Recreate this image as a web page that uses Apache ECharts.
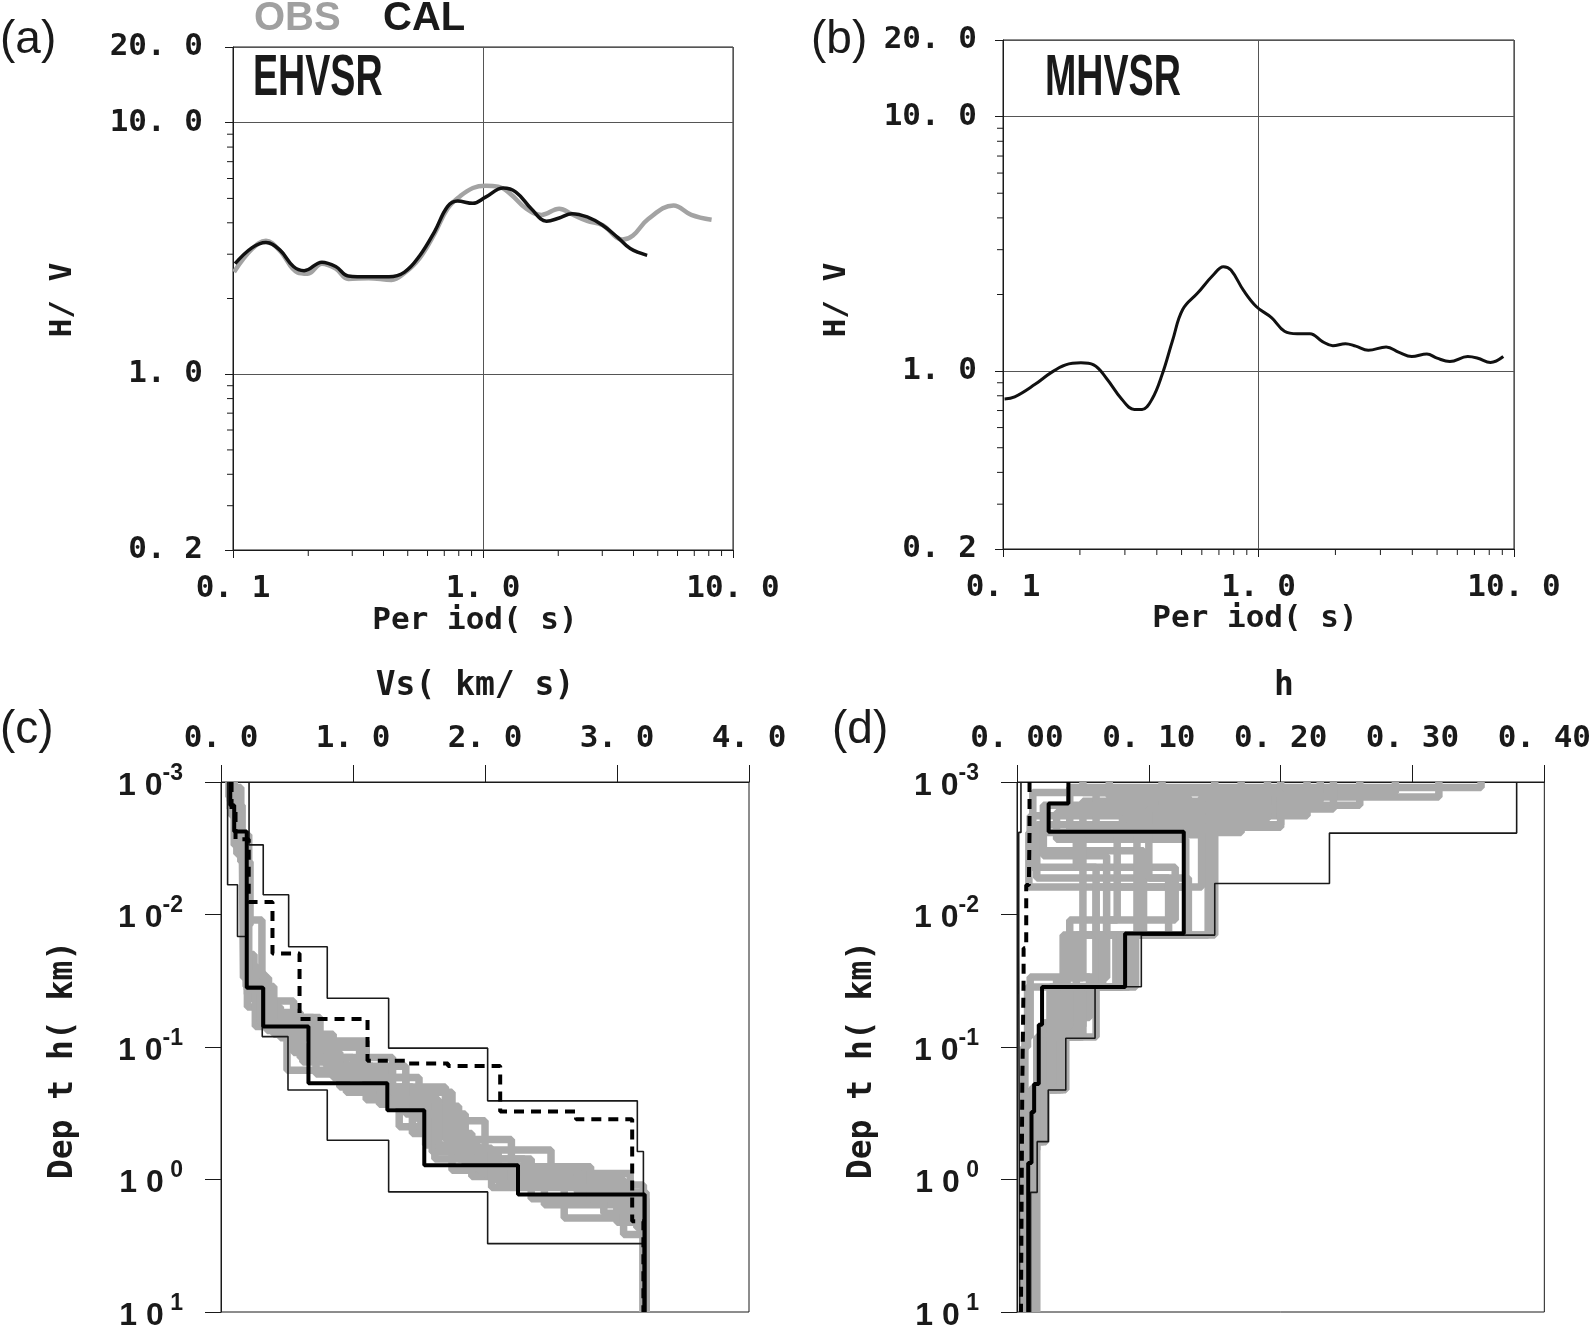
<!DOCTYPE html>
<html>
<head>
<meta charset="utf-8">
<title>EHVSR / MHVSR inversion</title>
<script src="https://cdn.jsdelivr.net/npm/echarts@6/dist/echarts.min.js"></script>
<style>
  html, body { margin: 0; padding: 0; background: #fff; }
  #chart { width: 1594px; height: 1334px; }
</style>
</head>
<body>
<div id="chart"></div>
<script>
// ---- (a) EHVSR: observed and calculated H/V ----
const periodObs = [0.101, 0.1189, 0.1355, 0.1538, 0.181, 0.199, 0.2268, 0.2575, 0.2893, 0.349, 0.4307, 0.484, 0.557, 0.641, 0.721, 0.81, 0.911, 1.024, 1.15, 1.29, 1.49, 1.713, 2.018, 2.268, 2.61, 3.0, 3.62, 3.98, 4.58, 5.78, 6.81, 8.21]
const hvObs = [2.55, 3.14, 3.39, 3.10, 2.54, 2.51, 2.75, 2.63, 2.39, 2.41, 2.37, 2.52, 2.89, 3.63, 4.55, 5.10, 5.50, 5.61, 5.57, 5.20, 4.55, 4.30, 4.55, 4.33, 4.07, 3.92, 3.43, 3.56, 4.14, 4.69, 4.30, 4.11]
const periodCal = [0.1019, 0.1189, 0.1355, 0.1538, 0.1745, 0.1926, 0.2268, 0.2575, 0.2893, 0.349, 0.4207, 0.484, 0.557, 0.641, 0.721, 0.791, 0.911, 1.024, 1.205, 1.354, 1.56, 1.795, 2.018, 2.268, 2.61, 3.0, 3.456, 3.88, 4.535]
const hvCal = [2.75, 3.18, 3.34, 3.12, 2.68, 2.58, 2.79, 2.68, 2.46, 2.44, 2.44, 2.54, 2.95, 3.70, 4.64, 4.88, 4.78, 5.06, 5.50, 5.30, 4.55, 4.06, 4.18, 4.35, 4.22, 3.92, 3.50, 3.16, 2.97]

// ---- (b) MHVSR ----
const periodM = [0.1014, 0.1111, 0.1335, 0.1532, 0.1758, 0.2018, 0.2263, 0.2538, 0.2912, 0.3266, 0.35, 0.3834, 0.4203, 0.4606, 0.505, 0.579, 0.665, 0.729, 0.78, 0.875, 0.982, 1.127, 1.264, 1.417, 1.59, 1.78, 1.954, 2.19, 2.402, 2.69, 3.16, 3.55, 3.98, 4.56, 5.0, 5.61, 6.59, 7.22, 8.09, 9.08]
const hvM = [0.777, 0.792, 0.887, 0.982, 1.058, 1.078, 1.058, 0.938, 0.777, 0.707, 0.707, 0.777, 0.974, 1.316, 1.745, 2.03, 2.385, 2.57, 2.495, 2.07, 1.79, 1.62, 1.435, 1.403, 1.403, 1.306, 1.258, 1.282, 1.253, 1.207, 1.244, 1.184, 1.141, 1.167, 1.124, 1.09, 1.141, 1.124, 1.082, 1.141]

// ---- (c) Vs profiles: [Vs km/s, bottom depth km] per layer ----
const vsUpper = [[0.2125, 0.00298], [0.32, 0.0071], [0.5125, 0.0175], [0.805, 0.0429], [1.27, 0.102], [2.02, 0.255], [3.154, 0.615], [3.2, 10]]
const vsLower = [[0.05, 0.00597], [0.125, 0.01466], [0.19, 0.035], [0.3125, 0.0835], [0.5075, 0.211], [0.805, 0.505], [1.27, 1.24], [2.02, 3.05], [3.2, 10]]
const vsBest = [[0.07, 0.0015], [0.1, 0.00236], [0.195, 0.0357], [0.32, 0.070], [0.6625, 0.188], [1.26, 0.30], [1.54, 0.78], [2.25, 1.30], [3.21, 10]]
const vsDash = [[0.08, 0.0016], [0.11, 0.0027], [0.21, 0.00805], [0.39, 0.0197], [0.595, 0.0615], [1.11, 0.127], [1.40, 0.133], [1.72, 0.139], [2.115, 0.307], [2.69, 0.351], [3.115, 2.07], [3.2, 10]]
const vsGray = [
  [[0.08, 0.0012], [0.13, 0.003], [0.19, 0.025], [0.28, 0.06], [0.62, 0.13], [0.95, 0.22], [1.35, 0.40], [1.75, 0.85], [2.45, 1.55], [3.22, 10]],
  [[0.07, 0.0016], [0.12, 0.0035], [0.2, 0.04], [0.35, 0.075], [0.72, 0.16], [1.2, 0.27], [1.6, 0.62], [2.1, 1.05], [2.9, 1.8], [3.2, 10]],
  [[0.09, 0.0014], [0.14, 0.0028], [0.18, 0.02], [0.25, 0.045], [0.55, 0.11], [0.9, 0.2], [1.45, 0.45], [1.9, 0.95], [2.6, 1.95], [3.21, 10]],
  [[0.06, 0.0013], [0.11, 0.0025], [0.21, 0.032], [0.3, 0.065], [0.68, 0.1], [1.05, 0.17], [1.5, 0.36], [2.0, 0.9], [3.1, 1.6], [3.2, 10]],
  [[0.08, 0.0018], [0.12, 0.003], [0.2, 0.05], [0.45, 0.085], [0.8, 0.14], [1.15, 0.24], [1.55, 0.55], [1.95, 0.85], [2.7, 1.25], [3.22, 10]],
  [[0.07, 0.0011], [0.15, 0.004], [0.22, 0.012], [0.19, 0.03], [0.33, 0.055], [0.6, 0.12], [1.0, 0.14], [1.4, 0.28], [1.8, 0.7], [2.3, 1.1], [3.0, 2.1], [3.2, 10]],
  [[0.08, 0.0013], [0.13, 0.0028], [0.19, 0.011], [0.31, 0.03], [0.36, 0.06], [0.7, 0.09], [1.1, 0.2], [1.7, 0.5], [2.2, 1.0], [3.05, 2.6], [3.2, 10]],
  [[0.1, 0.0015], [0.16, 0.0022], [0.17, 0.03], [0.26, 0.07], [0.5, 0.15], [1.25, 0.25], [1.62, 0.7], [2.35, 1.4], [3.15, 2.3], [3.22, 10]],
  [[0.09, 0.0012], [0.12, 0.0025], [0.2, 0.028], [0.33, 0.06], [0.75, 0.12], [1.3, 0.22], [1.75, 0.6], [2.5, 1.1], [3.2, 10]],
  [[0.07, 0.0014], [0.1, 0.003], [0.19, 0.035], [0.4, 0.08], [0.85, 0.17], [1.4, 0.32], [1.85, 0.8], [2.8, 1.4], [3.22, 10]],
  [[0.08, 0.0017], [0.13, 0.0026], [0.2, 0.037], [0.3, 0.065], [0.58, 0.1], [1.1, 0.25], [1.65, 0.58], [2.05, 1.15], [3.0, 1.7], [3.21, 10]]
]

// ---- (d) damping h profiles: [h, bottom depth km] per layer ----
const hUpper = [[0.379, 0.00243], [0.237, 0.00583], [0.150, 0.0143], [0.0943, 0.0351], [0.0592, 0.086], [0.037, 0.211], [0.0237, 0.518], [0.0153, 1.25], [0.0103, 10]]
const hLower = [[0.003, 0.0024], [0.0013, 0.0176], [0.002, 10]]
const hBest = [[0.039, 0.00145], [0.024, 0.00237], [0.1265, 0.0139], [0.082, 0.0353], [0.019, 0.068], [0.0165, 0.19], [0.013, 0.31], [0.011, 0.75], [0.0085, 10]]
const hDash = [[0.0095, 0.0024], [0.009, 0.006], [0.007, 0.018], [0.005, 0.03], [0.004, 0.2], [0.003, 10]]
const hGray = [
  [[0.352, 0.0011], [0.04, 0.0027], [0.128, 0.0143], [0.06, 0.035], [0.04, 0.084], [0.03, 0.21], [0.02, 0.5], [0.012, 1.2], [0.008, 10]],
  [[0.287, 0.0012], [0.012, 0.0033], [0.096, 0.0143], [0.08, 0.0353], [0.05, 0.07], [0.035, 0.21], [0.02, 0.5], [0.01, 10]],
  [[0.23, 0.0014], [0.05, 0.0025], [0.145, 0.0143], [0.09, 0.0353], [0.045, 0.084], [0.025, 0.2], [0.015, 0.6], [0.009, 10]],
  [[0.22, 0.0018], [0.01, 0.0044], [0.12, 0.011], [0.068, 0.03], [0.03, 0.066], [0.02, 0.2], [0.012, 0.7], [0.007, 10]],
  [[0.2, 0.0021], [0.015, 0.0053], [0.13, 0.0143], [0.075, 0.0353], [0.06, 0.084], [0.037, 0.21], [0.022, 0.52], [0.014, 1.25], [0.009, 10]],
  [[0.17, 0.0024], [0.009, 0.0062], [0.128, 0.0143], [0.05, 0.03], [0.035, 0.066], [0.02, 0.3], [0.01, 10]],
  [[0.15, 0.0012], [0.06, 0.0024], [0.076, 0.011], [0.04, 0.0296], [0.055, 0.06], [0.028, 0.18], [0.016, 0.4], [0.008, 10]],
  [[0.32, 0.0013], [0.14, 0.0024], [0.15, 0.0143], [0.035, 0.0353], [0.008, 0.1], [0.005, 10]],
  [[0.26, 0.0015], [0.02, 0.0036], [0.068, 0.0143], [0.045, 0.0353], [0.025, 0.084], [0.015, 0.21], [0.01, 10]],
  [[0.11, 0.0017], [0.03, 0.0027], [0.05, 0.0143], [0.085, 0.0353], [0.04, 0.07], [0.03, 0.14], [0.018, 0.4], [0.01, 10]],
  [[0.19, 0.0019], [0.08, 0.0024], [0.091, 0.0143], [0.06, 0.0296], [0.01, 0.084], [0.006, 10]],
  [[0.07, 0.0013], [0.13, 0.0024], [0.14, 0.0062], [0.06, 0.0143], [0.038, 0.0353], [0.03, 0.09], [0.02, 0.21], [0.012, 0.6], [0.008, 10]],
  [[0.24, 0.0016], [0.1, 0.0053], [0.115, 0.0143], [0.078, 0.0353], [0.05, 0.084], [0.033, 0.21], [0.02, 0.52], [0.012, 10]],
  [[0.05, 0.0012], [0.2, 0.0022], [0.045, 0.0044], [0.06, 0.0143], [0.065, 0.0353], [0.048, 0.084], [0.025, 0.21], [0.015, 10]]
]

// ---- tick labels ----
const periodTicks = [0.1, 1, 10]
const periodTickLabels = ['0. 1', '1. 0', '10. 0']
const hvTicks = [0.2, 1, 10, 20]
const hvTickLabels = ['0. 2', '1. 0', '10. 0', '20. 0']
const periodMinor = [0.2, 0.3, 0.4, 0.5, 0.6, 0.7, 0.8, 0.9, 2, 3, 4, 5, 6, 7, 8, 9]
const hvMinor = [0.3, 0.4, 0.5, 0.6, 0.7, 0.8, 0.9, 2, 3, 4, 5, 6, 7, 8, 9]
const vsTickLabels = ['0. 0', '1. 0', '2. 0', '3. 0', '4. 0']
const hTickLabels = ['0. 00', '0. 10', '0. 20', '0. 30', '0. 40']
const depthTickSup = ['-3', '-2', '-1', ' 0', ' 1']

const DEPTH_TOP = 0.001
const MONO = 'DejaVu Sans Mono'
const INK = '#1a1a1a'

function pickLabel(ticks, labels, v) {
  let best = 0
  ticks.forEach((t, i) => {
    if (Math.abs(Math.log10(t) - Math.log10(v)) < Math.abs(Math.log10(ticks[best]) - Math.log10(v))) best = i
  })
  return labels[best]
}

function toSteps(layers) {
  const pts = []
  let top = DEPTH_TOP
  for (const [v, bottom] of layers) {
    pts.push([v, top], [v, bottom])
    top = bottom
  }
  return pts
}

const tickLabelStyle = { fontFamily: MONO, fontWeight: 'bold', fontSize: 31, color: INK }

function hvXAxis(grid) {
  return {
    type: 'log', logBase: 10, gridIndex: grid, min: 0.1, max: 10,
    axisLine: { lineStyle: { color: INK, width: 1 } },
    axisTick: { show: true, length: 8, lineStyle: { color: INK } },
    axisLabel: { ...tickLabelStyle, margin: 23, showMinLabel: true, showMaxLabel: true,
      formatter: v => pickLabel(periodTicks, periodTickLabels, v) },
    splitLine: { show: true, lineStyle: { color: '#555', width: 1 } },
  }
}

function hvYAxis(grid, margin) {
  return {
    type: 'log', logBase: 10, gridIndex: grid, min: 0.2, max: 20,
    axisLine: { lineStyle: { color: INK, width: 1 } },
    axisTick: { show: true, length: 8, lineStyle: { color: INK } },
    axisLabel: { ...tickLabelStyle, margin, showMinLabel: true, showMaxLabel: true,
      formatter: v => pickLabel(hvTicks, hvTickLabels, v) },
    splitLine: { show: true, lineStyle: { color: '#555', width: 1 } },
  }
}

function depthYAxis(grid) {
  return {
    type: 'log', logBase: 10, gridIndex: grid, min: 0.001, max: 10, inverse: true,
    axisLine: { lineStyle: { color: INK, width: 1 } },
    axisTick: { show: true, length: 16, lineStyle: { color: INK } },
    axisLabel: {
      margin: 38, showMinLabel: true, showMaxLabel: true,
      formatter: v => '{b|1 0}{s|' + depthTickSup[Math.round(Math.log10(v)) + 3] + '}',
      rich: {
        b: { fontFamily: 'Liberation Sans', fontWeight: 'bold', fontSize: 32, color: INK, lineHeight: 40, verticalAlign: 'bottom', padding: [12, 0, 0, 0] },
        s: { fontFamily: 'Liberation Sans', fontWeight: 'bold', fontSize: 23, color: INK, lineHeight: 40, verticalAlign: 'top', padding: [0, 0, 16, 0] },
      },
    },
    splitLine: { show: false },
  }
}

function topXAxis(grid, max, interval, labels, scale) {
  return {
    type: 'value', gridIndex: grid, position: 'top', min: 0, max, interval,
    axisLine: { lineStyle: { color: INK, width: 1 } },
    axisTick: { show: true, length: 17, lineStyle: { color: INK } },
    axisLabel: { ...tickLabelStyle, margin: 28, showMinLabel: true, showMaxLabel: true,
      formatter: v => labels[Math.round(v * scale)] },
    splitLine: { show: false },
  }
}

function minorTicks(grid, values, dir) {
  return {
    type: 'custom', xAxisIndex: grid, yAxisIndex: grid, clip: false, silent: true,
    data: values.map(v => dir === 'x' ? [v, 0.2] : [0.1, v]),
    renderItem: (params, api) => {
      const p = api.coord([api.value(0), api.value(1)])
      const shape = dir === 'x'
        ? { x1: p[0], y1: p[1], x2: p[0], y2: p[1] + 6 }
        : { x1: p[0] - 6, y1: p[1], x2: p[0], y2: p[1] }
      return { type: 'line', shape, style: { stroke: INK, lineWidth: 1 } }
    },
  }
}

function profile(grid, layers, lineStyle) {
  return {
    type: 'line', xAxisIndex: grid, yAxisIndex: grid, data: toSteps(layers),
    symbol: 'none', silent: true, lineStyle,
  }
}

const GRAY = { color: '#aaaaaa', width: 7.5 }
const THIN = { color: INK, width: 1.6 }
const THICK = { color: '#000', width: 4 }
const DASH = { color: '#000', width: 4, type: [10, 7] }

const series = [
  minorTicks(0, periodMinor, 'x'), minorTicks(0, hvMinor, 'y'),
  minorTicks(1, periodMinor, 'x'), minorTicks(1, hvMinor, 'y'),
  { name: 'OBS', type: 'line', xAxisIndex: 0, yAxisIndex: 0, smooth: 0.4, symbol: 'none',
    data: periodObs.map((t, i) => [t, hvObs[i]]), lineStyle: { color: '#a3a3a3', width: 4.5 } },
  { name: 'CAL', type: 'line', xAxisIndex: 0, yAxisIndex: 0, smooth: 0.4, symbol: 'none',
    data: periodCal.map((t, i) => [t, hvCal[i]]), lineStyle: { color: '#111', width: 3.5 } },
  { name: 'MHVSR', type: 'line', xAxisIndex: 1, yAxisIndex: 1, smooth: 0.4, symbol: 'none',
    data: periodM.map((t, i) => [t, hvM[i]]), lineStyle: { color: '#111', width: 3 } },
  ...vsGray.map(g => profile(2, g, GRAY)),
  profile(2, vsUpper, THIN), profile(2, vsLower, THIN),
  profile(2, vsDash, DASH), profile(2, vsBest, THICK),
  ...hGray.map(g => profile(3, g, GRAY)),
  profile(3, hUpper, THIN), profile(3, hLower, THIN),
  profile(3, hDash, DASH), profile(3, hBest, THICK),
]

function label(text, x, y, font, extra = {}) {
  return { type: 'text', x, y, ...extra,
    style: { text, font, fill: INK, verticalAlign: 'middle', align: extra.align || 'left', ...(extra.style || {}) } }
}

const axisTitleFont = 'bold 31px "' + MONO + '"'
const graphic = [
  label('(a)', 0, 40, '46px "Liberation Sans"'),
  label('(b)', 811, 40, '46px "Liberation Sans"'),
  label('(c)', 0, 730, '46px "Liberation Sans"'),
  label('(d)', 832, 730, '46px "Liberation Sans"'),
  label('OBS', 254, 19, 'bold 40px "Liberation Sans"', { style: { fill: '#a0a0a0' } }),
  label('CAL', 383, 19, 'bold 40px "Liberation Sans"'),
  label('EHVSR', 253, 79, 'bold 57px "Liberation Sans"', { scaleX: 0.66 }),
  label('MHVSR', 1045, 79, 'bold 57px "Liberation Sans"', { scaleX: 0.66 }),
  label('H/ V', 63, 300, axisTitleFont, { rotation: Math.PI / 2, align: 'center' }),
  label('H/ V', 837, 300, axisTitleFont, { rotation: Math.PI / 2, align: 'center' }),
  label('Per iod( s)', 475, 621, axisTitleFont, { align: 'center' }),
  label('Per iod( s)', 1255, 619, axisTitleFont, { align: 'center' }),
  label('Vs( km/ s)', 475, 686, 'bold 33px "' + MONO + '"', { align: 'center' }),
  label('h', 1284, 686, 'bold 33px "' + MONO + '"', { align: 'center' }),
  label('Dep t h( km)', 63, 1060, 'bold 33px "' + MONO + '"', { rotation: Math.PI / 2, align: 'center' }),
  label('Dep t h( km)', 862, 1060, 'bold 33px "' + MONO + '"', { rotation: Math.PI / 2, align: 'center' }),
]

const chart = echarts.init(document.getElementById('chart'))
chart.setOption({
  animation: false,
  backgroundColor: '#fff',
  grid: [
    { left: 233, top: 47, width: 500, height: 503, show: true, borderColor: INK, borderWidth: 1 },
    { left: 1003, top: 40, width: 511, height: 509, show: true, borderColor: INK, borderWidth: 1 },
    { left: 221, top: 782, width: 528, height: 530, show: true, borderColor: INK, borderWidth: 1 },
    { left: 1017, top: 782, width: 530, height: 530, show: true, borderColor: INK, borderWidth: 1 },
  ],
  xAxis: [
    hvXAxis(0), hvXAxis(1),
    topXAxis(2, 4, 1, vsTickLabels, 1),
    topXAxis(3, 0.4, 0.1, hTickLabels, 10),
  ],
  yAxis: [
    hvYAxis(0, 30), hvYAxis(1, 26),
    depthYAxis(2), depthYAxis(3),
  ],
  series,
  graphic,
})
</script>
</body>
</html>
